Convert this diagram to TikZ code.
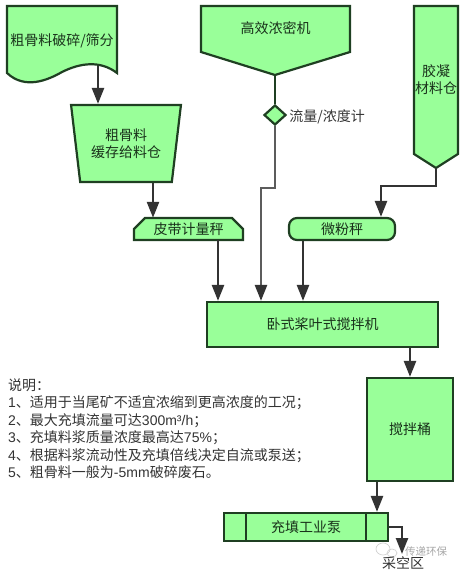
\documentclass[tikz,border=0pt]{standalone}
\usepackage{fontspec}
\setmainfont{Noto Sans CJK SC}
\newfontfamily\latinfont{Liberation Sans}
\usepackage{tikz}
\usetikzlibrary{positioning, arrows.meta, shapes.geometric}
\definecolor{boxfill}{HTML}{99FF99}
\definecolor{boxline}{HTML}{1F3F22}
\definecolor{flowline}{HTML}{333333}

\begin{document}
\begin{tikzpicture}[
  x=1pt, y=-1pt,
  >={Triangle[length=16pt, width=12pt, color=flowline]},
  unit/.style={draw=boxline, line width=2.2pt, fill=boxfill},
  label/.style={text=boxline!80!black, font=\fontsize{14}{17}\selectfont, align=center, inner sep=0pt},
  block/.style={unit, label, minimum width=#1, rectangle},
  hold/.style={label, minimum width=#1, rectangle},
  flow/.style={draw=flowline, line width=2.4pt},
  note/.style={text=flowline, font=\fontsize{14}{17.4}\selectfont, align=left, inner sep=0pt}
]
  \useasboundingbox (0,0) rectangle (462,571);

  % shapes without a ready node
  \draw[unit] (7,6) -- (117,6) -- (117,73) .. controls (100,60) and (80,63) .. (62,72)
    .. controls (48,80) and (25,90) .. (7,73) -- cycle;
  \draw[unit] (201,6) -- (350,6) -- (350,52) -- (275,75) -- (201,52) -- cycle;
  \draw[unit] (414,6) -- (458,6) -- (458,154) -- (436,168) -- (414,154) -- cycle;
  \draw[unit] (134,240) -- (134,229) -- (145,218) -- (232,218) -- (243,229) -- (243,240) -- cycle;

  % watermark logo
  \draw[gray!35, line width=0.7pt] (383,549) ellipse (7pt and 6pt);
  \draw[gray!35, line width=0.7pt] (392,553) ellipse (5pt and 4pt);

  \coordinate (crusherout) at (98,66);
  \coordinate (apex) at (275,75);
  \coordinate (siloout) at (436,168);
  \coordinate (pumpout) at (402,527);
  \coordinate (pumpend) at (402,554);
  \coordinate (waterbend) at (261,188);
  \coordinate (silobend) at (381,186);

  \node[hold=110pt, minimum height=67pt] (crusher) at (62,40.5) {粗骨料破碎/筛分};
  \node[hold=149pt, minimum height=46pt] (thickener) at (275.5,28.5) {高效浓密机};
  \node[hold=44pt, minimum height=150pt] (silo) at (436,80) {胶凝\\材料仓};
  \node[unit, label, trapezium, shape border rotate=180, trapezium stretches=true,
    trapezium angle=76.9, minimum width=110pt, minimum height=77pt] (bin) at (126,143.5) {粗骨料\\缓存给料仓};
  \node[hold=109pt, minimum height=22pt] (belt) at (188.5,229) {皮带计量秤};
  \node[block=106pt, rounded corners=8pt, minimum height=22pt] (powder) at (342,229) {微粉秤};
  \node[unit, diamond, minimum width=22pt, minimum height=20pt, inner sep=0pt] (meter) at (275,115) {};
  \node[note, right=2pt of meter, yshift=-1.5pt] (metertext) {流量/浓度计};
  \node[block=231pt, minimum height=45pt] (mixer) at (322.5,324.5) {卧式桨叶式搅拌机};
  \node[block=86pt, minimum height=103pt] (tank) at (410,429.5) {搅拌桶};
  \node[block=120pt, minimum height=28pt] (pump) at (306,527) {充填工业泵};
  \node[block=22pt, minimum height=28pt] (pumpl) at (235,527) {};
  \node[block=22pt, minimum height=28pt] (pumpr) at (377,527) {};
  \node[label, text=flowline] (goaf) at (403,563) {采空区};
  \node[note, text=gray!70, font=\fontsize{10.5}{12}\selectfont] (mark) at (426,551) {传递环保};

  \node[note, anchor=north west] (notes) at (8,378.5) {说明：\\
    {\latinfont 1}、适用于当尾矿不适宜浓缩到更高浓度的工况；\\
    {\latinfont 2}、最大充填流量可达{\latinfont 300m³/h}；\\
    {\latinfont 3}、充填料浆质量浓度最高达{\latinfont 75\%}；\\
    {\latinfont 4}、根据料浆流动性及充填倍线决定自流或泵送；\\
    {\latinfont 5}、粗骨料一般为{\latinfont -5mm}破碎废石。};

  \draw[flow, ->] (crusherout) -- (bin.north -| crusherout);
  \draw[flow, ->] (bin.south -| 153,0) -- (belt.north -| 153,0);
  \draw[flow, ->] (belt.south -| 218,0) -- (mixer.north -| 218,0);
  \draw[flow, ->] (powder.south -| 303,0) -- (mixer.north -| 303,0);
  \draw[flow, draw=boxline] (apex) -- (meter.north);
  \draw[flow, draw=flowline!80, ->] (meter.south) |- (waterbend) -- (mixer.north -| waterbend);
  \draw[flow, ->] (siloout) |- (silobend) -- (powder.north -| silobend);
  \draw[flow, ->] (mixer.south -| tank.north) -- (tank.north);
  \draw[flow, ->] (tank.south -| pumpr.north) -- (pumpr.north);
  \draw[flow, ->] (pumpr.east) -- (pumpout) -- (pumpend);
\end{tikzpicture}
\end{document}
